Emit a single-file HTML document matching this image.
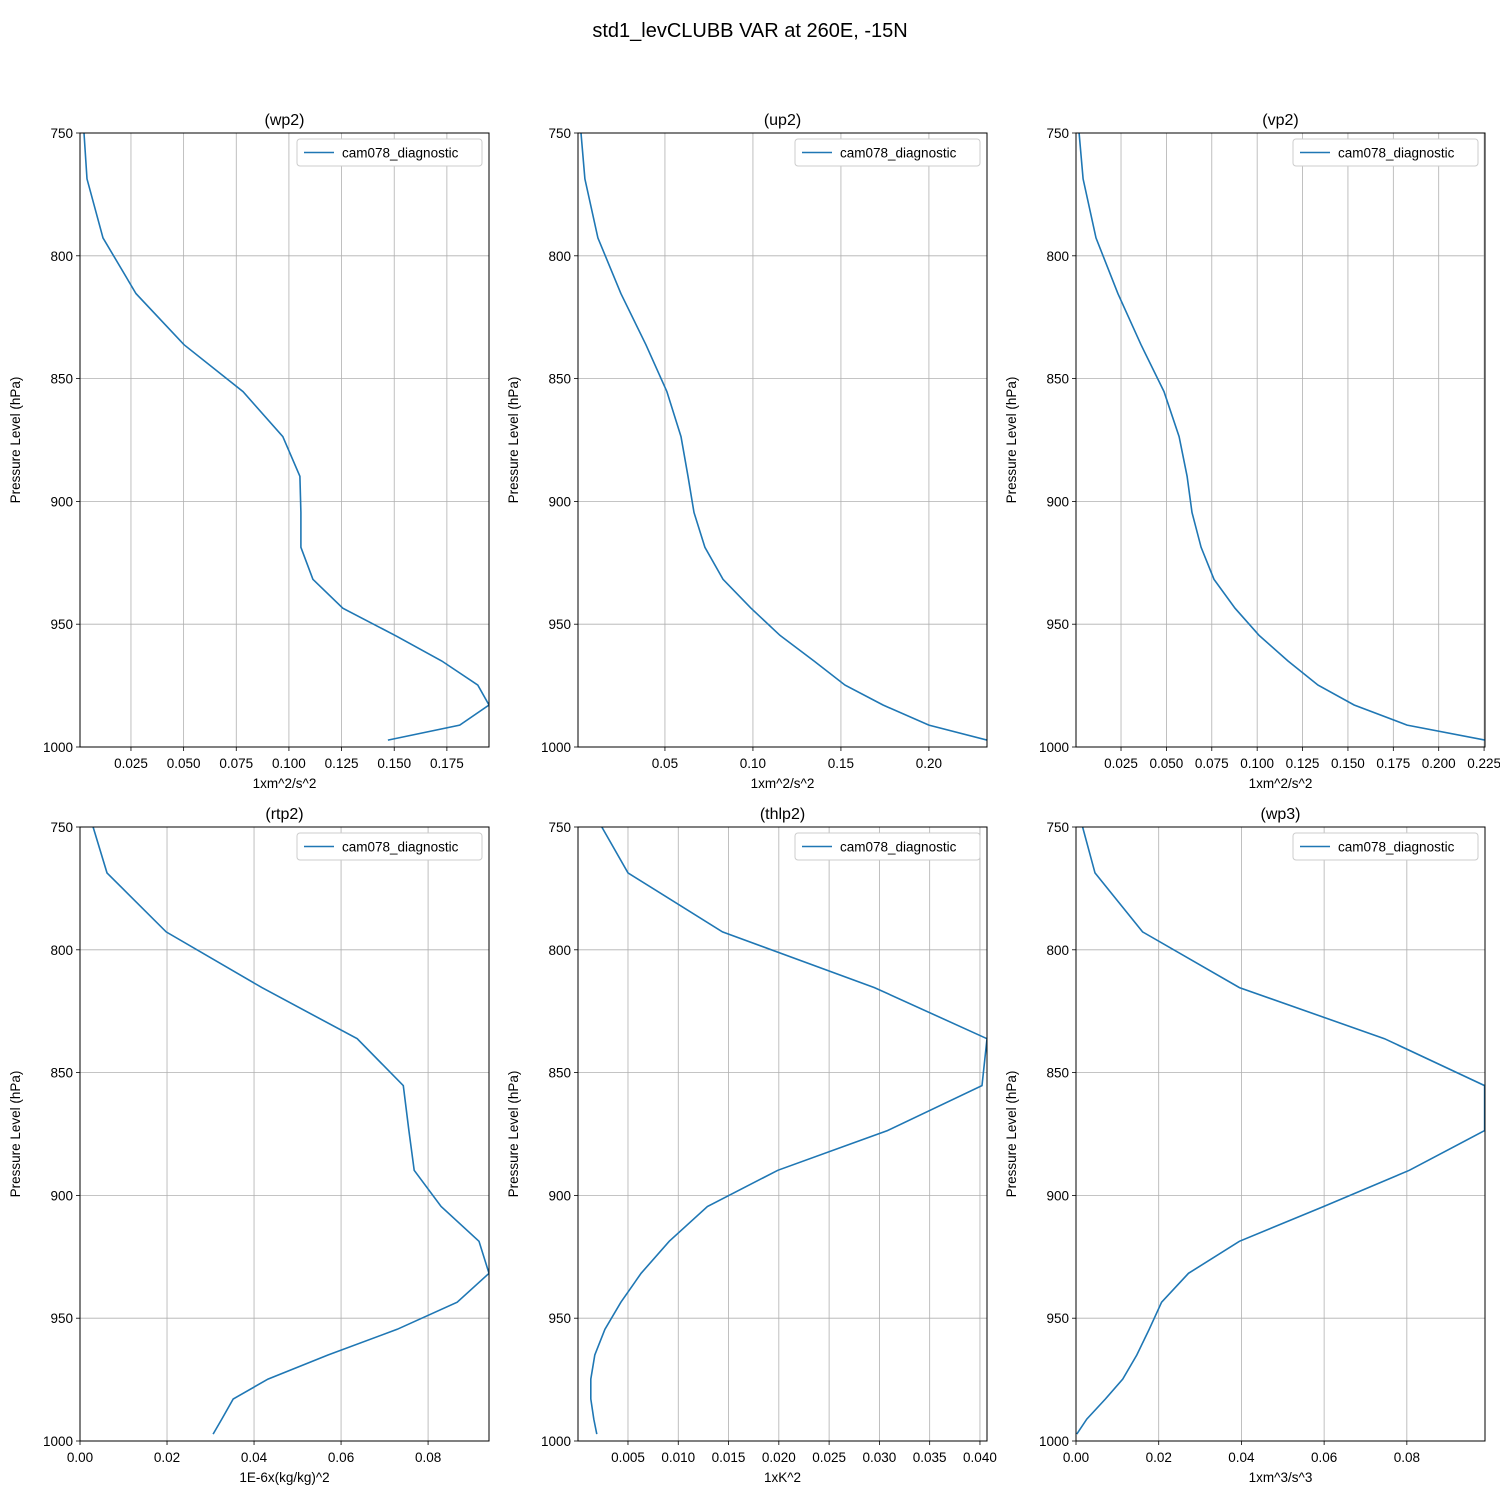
<!DOCTYPE html>
<html><head><meta charset="utf-8"><style>
body{margin:0;background:#fff}
svg{font-family:"Liberation Sans","DejaVu Sans",sans-serif}
</style></head><body>
<svg id="fig" width="1500" height="1500" viewBox="0 0 1500 1500" xmlns="http://www.w3.org/2000/svg">
<rect width="1500" height="1500" fill="#fff"/>
<text x="750" y="37" text-anchor="middle" font-size="20">std1_levCLUBB VAR at 260E, -15N</text>
</svg>
<script>
const levels = [750,768.7,792.7,815.4,836.2,855.3,873.6,889.8,904.5,918.7,931.7,943.5,954.5,965.0,974.8,982.9,991.1,997.2];
const wp2 = [0.0027,0.0041,0.0117,0.0274,0.0502,0.0782,0.0971,0.1052,0.1057,0.1057,0.1114,0.1256,0.1503,0.1726,0.1897,0.195,0.1811,0.147];
const up2 = [0.0023,0.0045,0.0119,0.025,0.0392,0.0511,0.0591,0.0631,0.0665,0.0727,0.083,0.0989,0.1153,0.1347,0.1523,0.1739,0.2,0.233];
const vp2 = [0.0019,0.0041,0.0112,0.0233,0.036,0.0487,0.057,0.0614,0.0641,0.0691,0.0762,0.0878,0.101,0.117,0.1335,0.1534,0.1826,0.2255];
const rtp2 = [0.003,0.0062,0.0198,0.0418,0.0637,0.0743,0.0756,0.0768,0.083,0.0917,0.094,0.0867,0.0729,0.057,0.0432,0.0352,0.0326,0.0306];
const thlp2 = [0.0024,0.005,0.0144,0.0295,0.0407,0.0402,0.0308,0.0199,0.0129,0.0091,0.0063,0.0043,0.0027,0.0017,0.0013,0.0013,0.0016,0.0019];
const wp3 = [0.0016,0.0046,0.0161,0.0395,0.0746,0.0988,0.0988,0.0806,0.0599,0.0395,0.0272,0.0207,0.0177,0.0147,0.0113,0.0071,0.0026,0.0002];
const pTicks = [750,800,850,900,950,1000];
const wp2Ticks = ["0.025","0.050","0.075","0.100","0.125","0.150","0.175"];
const up2Ticks = ["0.05","0.10","0.15","0.20"];
const vp2Ticks = ["0.025","0.050","0.075","0.100","0.125","0.150","0.175","0.200","0.225"];
const rtp2Ticks = ["0.00","0.02","0.04","0.06","0.08"];
const thlp2Ticks = ["0.005","0.010","0.015","0.020","0.025","0.030","0.035","0.040"];
const wp3Ticks = ["0.00","0.02","0.04","0.06","0.08"];

const panels = [
 {name:"wp2",vals:wp2,ticks:wp2Ticks,xmin:0.0008,xmax:0.195,unit:"1xm^2/s^2",x0:80,y0:133},
 {name:"up2",vals:up2,ticks:up2Ticks,xmin:0.0006,xmax:0.233,unit:"1xm^2/s^2",x0:578,y0:133},
 {name:"vp2",vals:vp2,ticks:vp2Ticks,xmin:0.0002,xmax:0.2255,unit:"1xm^2/s^2",x0:1076,y0:133},
 {name:"rtp2",vals:rtp2,ticks:rtp2Ticks,xmin:0,xmax:0.094,unit:"1E-6x(kg/kg)^2",x0:80,y0:827},
 {name:"thlp2",vals:thlp2,ticks:thlp2Ticks,xmin:0.00003,xmax:0.0407,unit:"1xK^2",x0:578,y0:827},
 {name:"wp3",vals:wp3,ticks:wp3Ticks,xmin:0,xmax:0.0989,unit:"1xm^3/s^3",x0:1076,y0:827}
];
const W=409,H=614;
const NS="http://www.w3.org/2000/svg";
const fig=document.getElementById('fig');
function mk(tag,attrs,parent){const e=document.createElementNS(NS,tag);for(const k in attrs)e.setAttribute(k,attrs[k]);(parent||fig).appendChild(e);return e;}
panels.forEach((p,i)=>{
 const g=mk('g',{});
 
 
 const xs=v=>p.x0+(v-p.xmin)/(p.xmax-p.xmin)*W;
 const ys=v=>p.y0+(v-750)/250*H;
 const clip=mk('clipPath',{id:'c'+i},g);
 mk('rect',{x:p.x0,y:p.y0,width:W,height:H},clip);
 // grid + ticks
 p.ticks.forEach(t=>{
  const x=xs(parseFloat(t));
  const gl=mk('line',{x1:x,x2:x,y1:p.y0,y2:p.y0+H,stroke:'#b0b0b0','stroke-width':0.8},g);
  
  
  mk('line',{x1:x,x2:x,y1:p.y0+H,y2:p.y0+H+4,stroke:'#000','stroke-width':0.8},g);
  const tl=mk('text',{x:x,y:p.y0+H+21,'text-anchor':'middle','font-size':13.5},g);
  tl.textContent=t;
  
  
 });
 pTicks.forEach(t=>{
  const y=ys(t);
  const gl=mk('line',{x1:p.x0,x2:p.x0+W,y1:y,y2:y,stroke:'#b0b0b0','stroke-width':0.8},g);
  
  
  mk('line',{x1:p.x0-4,x2:p.x0,y1:y,y2:y,stroke:'#000','stroke-width':0.8},g);
  const tl=mk('text',{x:p.x0-7,y:y+5,'text-anchor':'end','font-size':13.5},g);
  tl.textContent=t;
  
  
 });
 const pts=p.vals.map((v,k)=>xs(v).toFixed(1)+','+ys(levels[k]).toFixed(1)).join(' ');
 const line=mk('polyline',{points:pts,fill:'none',stroke:'#1f77b4','stroke-width':1.6,'clip-path':'url(#c'+i+')'},g);
 
 
 const fr=mk('rect',{x:p.x0,y:p.y0,width:W,height:H,fill:'none',stroke:'#000','stroke-width':1},g);
 
 
 const ti=mk('text',{x:p.x0+W/2,y:p.y0-8,'text-anchor':'middle','font-size':16},g);
 ti.textContent='('+p.name+')';
 
 
 const xl=mk('text',{x:p.x0+W/2,y:p.y0+H+41,'text-anchor':'middle','font-size':13.5},g);
 xl.textContent=p.unit;
 
 
 const yx=p.x0-60, yy=p.y0+H/2;
 const yl=mk('text',{x:yx,y:yy,'text-anchor':'middle','font-size':13.5,transform:'rotate(-90 '+yx+' '+yy+')'},g);
 yl.textContent='Pressure Level (hPa)';
 
 
 const lg=mk('g',{},g);
 
 
 const lx=p.x0+W-192, ly=p.y0+6;
 mk('rect',{x:lx,y:ly,width:185,height:27,rx:3,fill:'#fff',stroke:'#ccc','stroke-width':1},lg);
 mk('line',{x1:lx+7,x2:lx+37,y1:ly+13.5,y2:ly+13.5,stroke:'#1f77b4','stroke-width':1.6},lg);
 const lt=mk('text',{x:lx+45,y:ly+18.5,'font-size':13.5},lg);
 lt.textContent='cam078_diagnostic';
 
 
});
</script>
</body></html>
